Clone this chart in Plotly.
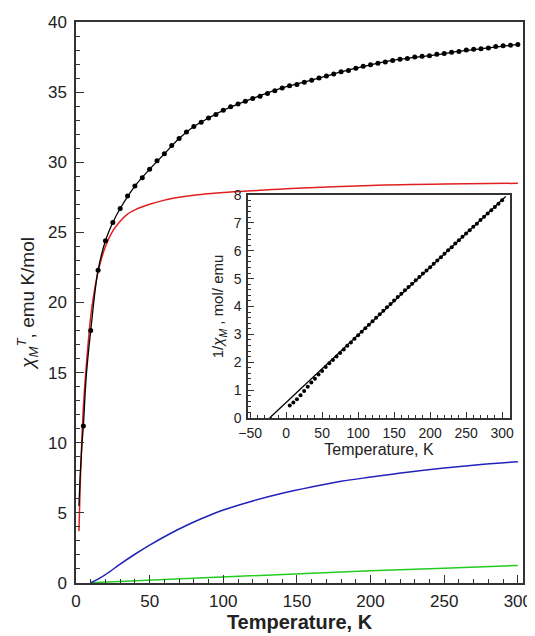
import plotly.graph_objects as go

# ---- main panel data: chi_M T vs T ----
T_exp = [5, 10, 15, 20, 25, 30, 35, 40, 45, 50, 55, 60, 65, 70, 75, 80, 85, 90, 95, 100,
         105, 110, 115, 120, 125, 130, 135, 140, 145, 150, 155, 160, 165, 170, 175, 180,
         185, 190, 195, 200, 205, 210, 215, 220, 225, 230, 235, 240, 245, 250, 255, 260,
         265, 270, 275, 280, 285, 290, 295, 300]
chiT_exp = [11.2, 18.0, 22.3, 24.4, 25.7, 26.7, 27.6, 28.3, 28.9, 29.5, 30.1, 30.6, 31.2, 31.7,
            32.15, 32.55, 32.85, 33.15, 33.4, 33.7, 33.95, 34.15, 34.35, 34.55, 34.7, 34.9,
            35.1, 35.3, 35.45, 35.55, 35.7, 35.85, 36.0, 36.15, 36.3, 36.45, 36.55, 36.7,
            36.85, 36.95, 37.05, 37.15, 37.25, 37.35, 37.4, 37.5, 37.55, 37.6, 37.7, 37.75,
            37.85, 37.9, 38.0, 38.05, 38.1, 38.15, 38.25, 38.3, 38.35, 38.4]

T_fit = [2, 3, 4, 5, 7, 10, 15, 20, 25, 30, 40, 50, 60, 70, 80, 90, 100, 120, 140, 160,
         180, 200, 220, 240, 260, 280, 300]
chiT_fit = [5.5, 8.0, 9.8, 11.2, 14.8, 18.0, 22.3, 24.4, 25.7, 26.7, 28.3, 29.5, 30.6, 31.7,
            32.55, 33.15, 33.7, 34.55, 35.3, 35.85, 36.45, 36.95, 37.35, 37.6, 37.9, 38.15, 38.4]

T_red = [2, 3, 4, 5, 7, 10, 12, 15, 20, 25, 30, 35, 40, 50, 60, 70, 80, 100, 125, 150,
         200, 250, 300]
chiT_red = [3.7, 7.5, 10.3, 12.5, 15.5, 19.0, 20.5, 22.2, 24.0, 25.1, 25.8, 26.3, 26.6, 27.0,
            27.3, 27.5, 27.65, 27.85, 28.0, 28.15, 28.35, 28.45, 28.5]

T_blue = [10, 20, 30, 40, 50, 60, 70, 80, 90, 100, 120, 140, 160, 180, 200, 225, 250, 275, 300]
chiT_blue = [0.0, 0.6, 1.35, 2.05, 2.7, 3.3, 3.85, 4.35, 4.8, 5.2, 5.85, 6.4, 6.85, 7.25,
             7.55, 7.9, 8.2, 8.45, 8.65]

T_green = [10, 50, 100, 150, 200, 250, 300]
chiT_green = [0.02, 0.2, 0.45, 0.68, 0.88, 1.05, 1.25]

# ---- inset data: 1/chi_M vs T ----
T_inv = T_exp
inv_chi = [0.45, 0.56, 0.67, 0.82, 0.97, 1.12, 1.27, 1.41, 1.56, 1.69, 1.83, 1.96, 2.08, 2.21,
           2.33, 2.46, 2.59, 2.71, 2.84, 2.97, 3.09, 3.22, 3.35, 3.47, 3.60, 3.72, 3.85, 3.97,
           4.09, 4.22, 4.34, 4.46, 4.58, 4.70, 4.82, 4.94, 5.06, 5.18, 5.29, 5.41, 5.53, 5.65,
           5.77, 5.89, 6.02, 6.13, 6.26, 6.38, 6.50, 6.62, 6.74, 6.86, 6.97, 7.10, 7.22, 7.34,
           7.45, 7.57, 7.69, 7.81]
T_cw = [-23, 305]
inv_cw = [0.0, 7.95]

FONT = "Liberation Sans, Arial, sans-serif"

fig = go.Figure()
fig.add_trace(go.Scatter(x=T_green, y=chiT_green, mode="lines",
                         line=dict(color="#22cc22", width=1.5), xaxis="x", yaxis="y"))
fig.add_trace(go.Scatter(x=T_blue, y=chiT_blue, mode="lines", line_shape="spline",
                         line=dict(color="#2222bb", width=1.5), xaxis="x", yaxis="y"))
fig.add_trace(go.Scatter(x=T_red, y=chiT_red, mode="lines", line_shape="spline",
                         line=dict(color="#e02020", width=1.5), xaxis="x", yaxis="y"))
fig.add_trace(go.Scatter(x=T_fit, y=chiT_fit, mode="lines", line_shape="spline",
                         line=dict(color="black", width=1.3), xaxis="x", yaxis="y"))
fig.add_trace(go.Scatter(x=T_exp, y=chiT_exp, mode="markers",
                         marker=dict(color="black", size=5), xaxis="x", yaxis="y"))

fig.add_trace(go.Scatter(x=T_cw, y=inv_cw, mode="lines",
                         line=dict(color="black", width=1.3), xaxis="x2", yaxis="y2"))
fig.add_trace(go.Scatter(x=T_inv, y=inv_chi, mode="markers",
                         marker=dict(color="black", size=4), xaxis="x2", yaxis="y2"))

axis_common = dict(showline=True, linecolor="#333", linewidth=1.5, mirror=True,
                   ticks="inside", tickcolor="#333", showgrid=False, zeroline=False,
                   automargin=False)

# page body has an 8px default margin, so the figure is sized to fit the 535x636 window
fig.update_layout(
    width=527, height=628,
    margin=dict(l=68, r=12, t=14, b=53),
    paper_bgcolor="white", plot_bgcolor="white",
    showlegend=False,
    font=dict(family=FONT, color="#222"),
    xaxis=dict(axis_common, range=[0, 303.5], dtick=50, ticklen=8, tickwidth=1.3,
               minor=dict(dtick=10, ticks="inside", ticklen=4, tickcolor="#333"),
               tickfont=dict(size=17), ticklabelstandoff=2,
               title=dict(text="<b>Temperature, K</b>", font=dict(size=20), standoff=3)),
    yaxis=dict(axis_common, range=[0, 40], dtick=5, ticklen=8, tickwidth=1.3,
               minor=dict(dtick=1, ticks="inside", ticklen=4, tickcolor="#333"),
               tickfont=dict(size=17), ticklabelstandoff=4,
               title=dict(text="<i>χ<sub>M</sub><sup>T</sup></i>, emu K/mol",
                          font=dict(size=19), standoff=8)),
    xaxis2=dict(axis_common, domain=[0.3848, 0.9709], anchor="y2", range=[-53, 311],
                dtick=50, ticklen=6, tickwidth=1.2,
                minor=dict(dtick=10, ticks="inside", ticklen=3, tickcolor="#333"),
                tickfont=dict(size=14), ticklabelstandoff=1,
                title=dict(text="Temperature, K", font=dict(size=16), standoff=3)),
    yaxis2=dict(axis_common, domain=[0.2941, 0.6916], anchor="x2", range=[0, 8],
                dtick=1, ticklen=6, tickwidth=1.2,
                minor=dict(dtick=0.2, ticks="inside", ticklen=3, tickcolor="#333"),
                tickfont=dict(size=14), ticklabelstandoff=2,
                title=dict(text="1/<i>χ<sub>M</sub></i> , mol/ emu", font=dict(size=15), standoff=6)),
)

fig.write_html("out.html")
